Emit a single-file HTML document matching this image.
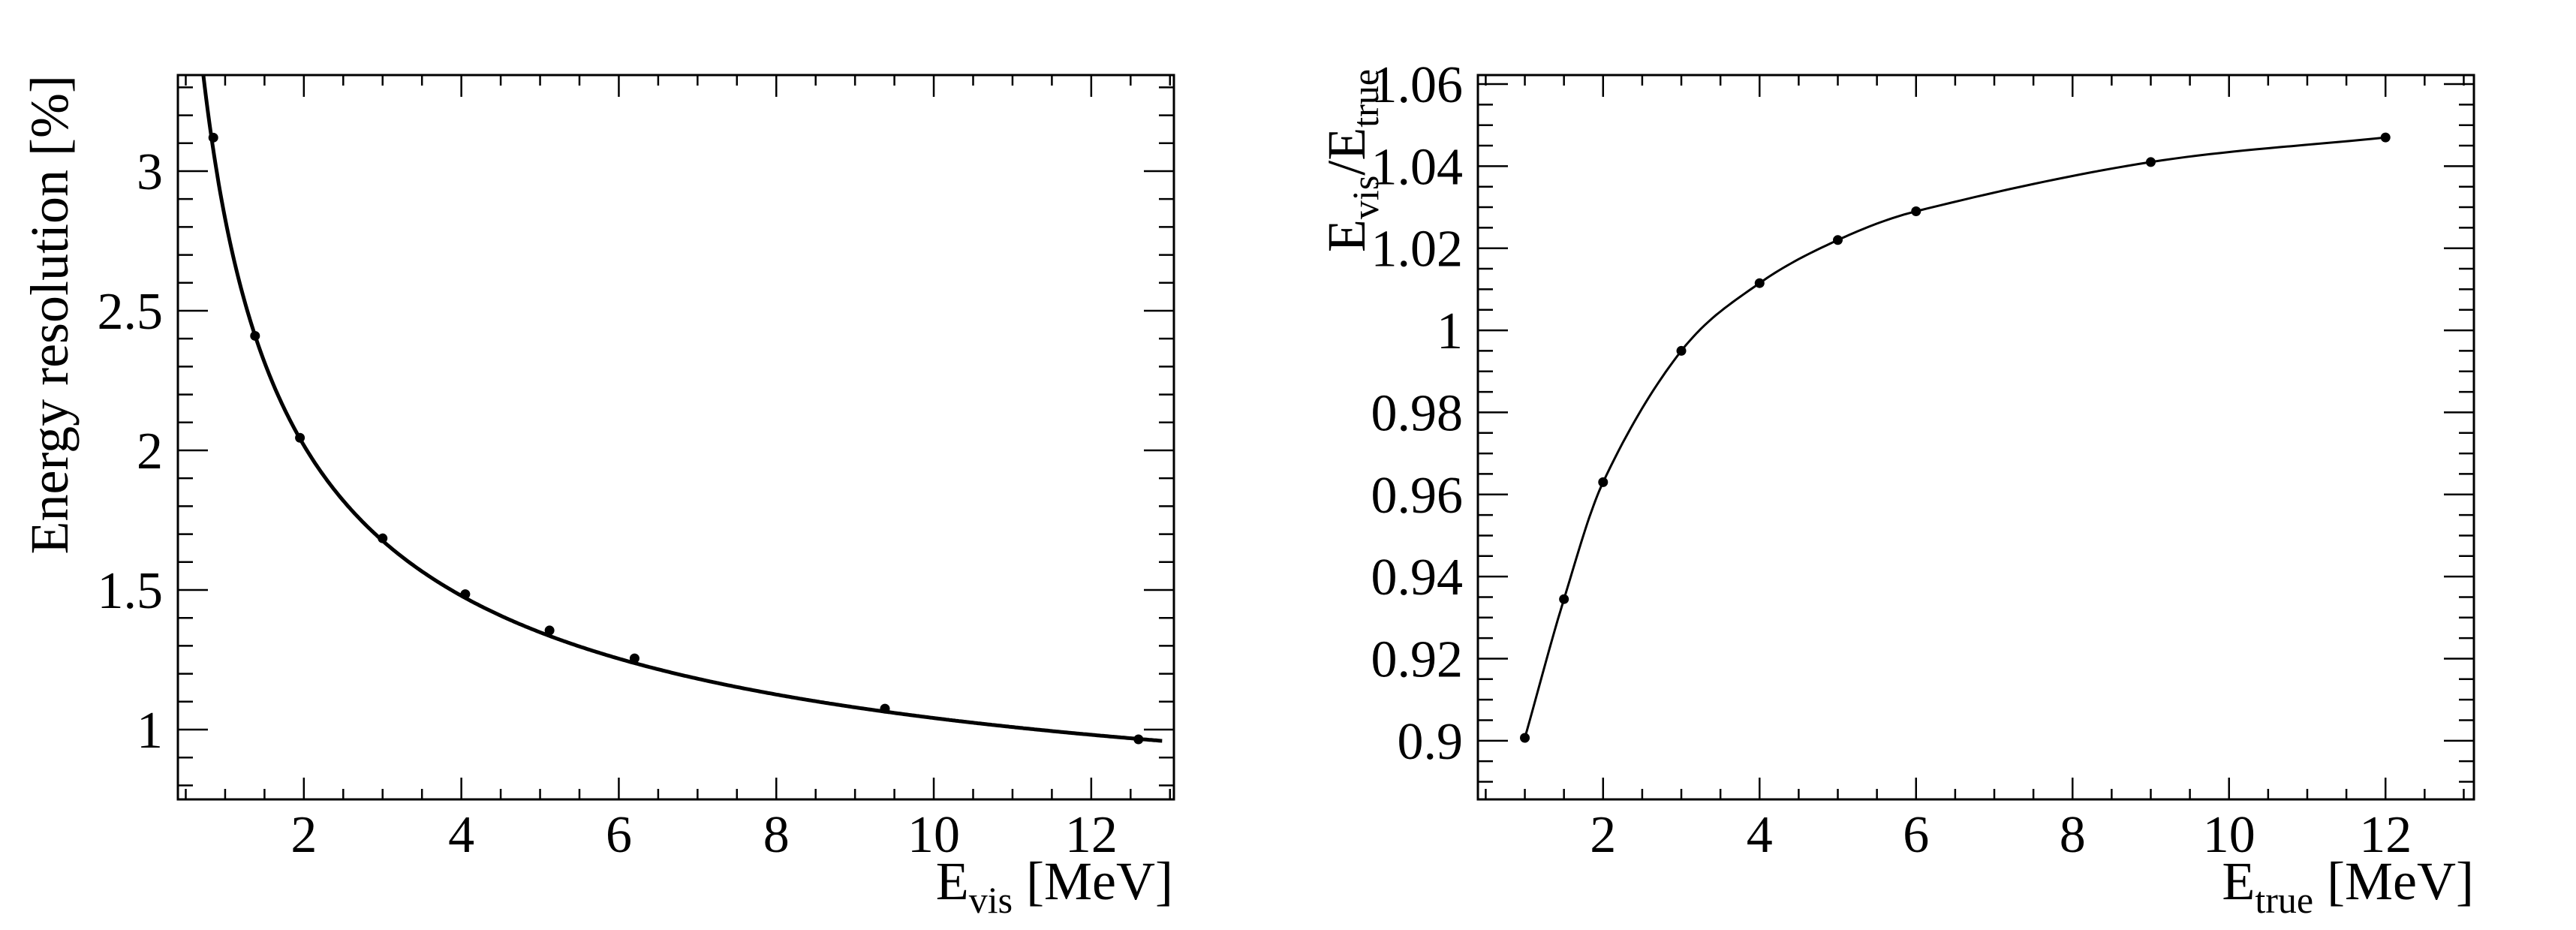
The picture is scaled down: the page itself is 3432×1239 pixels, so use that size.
<!DOCTYPE html>
<html><head><meta charset="utf-8"><style>
html,body{margin:0;padding:0;background:#fff;}
svg{display:block;font-family:"Liberation Serif",serif;}
</style></head><body>
<svg id="s" width="3432" height="1239" viewBox="0 0 3432 1239" xmlns="http://www.w3.org/2000/svg"></svg>
<script>
const S=document.getElementById('s');let h='';
function panel(L,R,T,B,x0,x1,y0,y1,yMaj,yMin,yDec,pts,curve,cw){
  const X=v=>L+(v-x0)/(x1-x0)*(R-L), Y=v=>B-(v-y0)/(y1-y0)*(B-T);
  h+=`<rect x="${L}" y="${T}" width="${R-L}" height="${B-T}" fill="none" stroke="#000" stroke-width="3"/>`;
  for(let v=0;v<=14.001;v+=0.5){ if(v<x0-1e-9||v>x1+1e-9)continue;
    const maj=Math.abs(v/2-Math.round(v/2))<1e-6; const x=X(v); const l=maj?29:14;
    h+=`<line x1="${x}" y1="${B}" x2="${x}" y2="${B-l}" stroke="#000" stroke-width="2.5"/>`;
    h+=`<line x1="${x}" y1="${T}" x2="${x}" y2="${T+l}" stroke="#000" stroke-width="2.5"/>`;
    if(maj) h+=`<text x="${x}" y="1135" font-size="70" text-anchor="middle">${v}</text>`;
  }
  const n0=Math.ceil(y0/yMin-1e-6), n1=Math.floor(y1/yMin+1e-6);
  const r=Math.round(yMaj/yMin);
  for(let n=n0;n<=n1;n++){const v=n*yMin; const y=Y(v); const maj=(n%r)==0; const l=maj?40:20;
    h+=`<line x1="${L}" y1="${y}" x2="${L+l}" y2="${y}" stroke="#000" stroke-width="2.5"/>`;
    h+=`<line x1="${R}" y1="${y}" x2="${R-l}" y2="${y}" stroke="#000" stroke-width="2.5"/>`;
    if(maj){let t=parseFloat(v.toFixed(yDec)).toString();
      h+=`<text x="${L-20}" y="${y+24}" font-size="70" text-anchor="end">${t}</text>`;}
  }
  const p=curve.map(q=>X(q[0]).toFixed(1)+','+Y(q[1]).toFixed(1)).join(' ');
  h+=`<clipPath id="c${L}"><rect x="${L}" y="${T}" width="${R-L}" height="${B-T}"/></clipPath>`;
  h+=`<polyline clip-path="url(#c${L})" points="${p}" fill="none" stroke="#000" stroke-width="${cw}" stroke-linejoin="round"/>`;
  for(const q of pts) h+=`<circle cx="${X(q[0])}" cy="${Y(q[1])}" r="6.5" fill="#000"/>`;
}
const lc=[];for(let E=0.7;E<=12.9;E+=0.02){lc.push([E,Math.sqrt(7.2/E+0.36+0.45/(E*E))]);}
panel(237,1564,100,1065,0.4,13.05,0.75,3.344,0.5,0.1,1,
 [[0.85,3.12],[1.38,2.41],[1.95,2.045],[3.0,1.685],[4.05,1.485],[5.12,1.355],[6.2,1.255],[9.38,1.075],[12.6,0.965]],lc,5);
const P=[[1,0.9007],[1.5,0.9345],[2,0.963],[3,0.995],[4,1.0115],[5,1.022],[6,1.029],[9,1.041],[12,1.047]];
const rc=[];
for(let i=0;i<P.length-1;i++){
  const p0=P[Math.max(0,i-1)],p1=P[i],p2=P[i+1],p3=P[Math.min(P.length-1,i+2)];
  const m1=(p2[1]-p0[1])/(p2[0]-p0[0]), m2=(p3[1]-p1[1])/(p3[0]-p1[0]);
  const dx=p2[0]-p1[0];
  for(let k=0;k<=20;k++){const t=k/20,t2=t*t,t3=t2*t;
    const y=(2*t3-3*t2+1)*p1[1]+(t3-2*t2+t)*dx*m1+(-2*t3+3*t2)*p2[1]+(t3-t2)*dx*m2;
    rc.push([p1[0]+t*dx,y]);}
}
panel(1969,3296,100,1065,0.4,13.13,0.8857,1.0622,0.02,0.005,2,P,rc,3);
h+=`<text x="1563" y="1198" font-size="72" text-anchor="end">E<tspan font-size="50" dy="18">vis</tspan><tspan dy="-18"> [MeV]</tspan></text>`;
h+=`<text x="3296" y="1198" font-size="72" text-anchor="end">E<tspan font-size="50" dy="18">true</tspan><tspan dy="-18"> [MeV]</tspan></text>`;
h+=`<text transform="translate(90,100) rotate(-90)" font-size="72" text-anchor="end">Energy resolution [%]</text>`;
h+=`<text transform="translate(1818,92) rotate(-90)" font-size="72" text-anchor="end">E<tspan font-size="50" dy="18">vis</tspan><tspan dy="-18">/E</tspan><tspan font-size="50" dy="18">true</tspan></text>`;
S.innerHTML=h;
</script>
</body></html>
